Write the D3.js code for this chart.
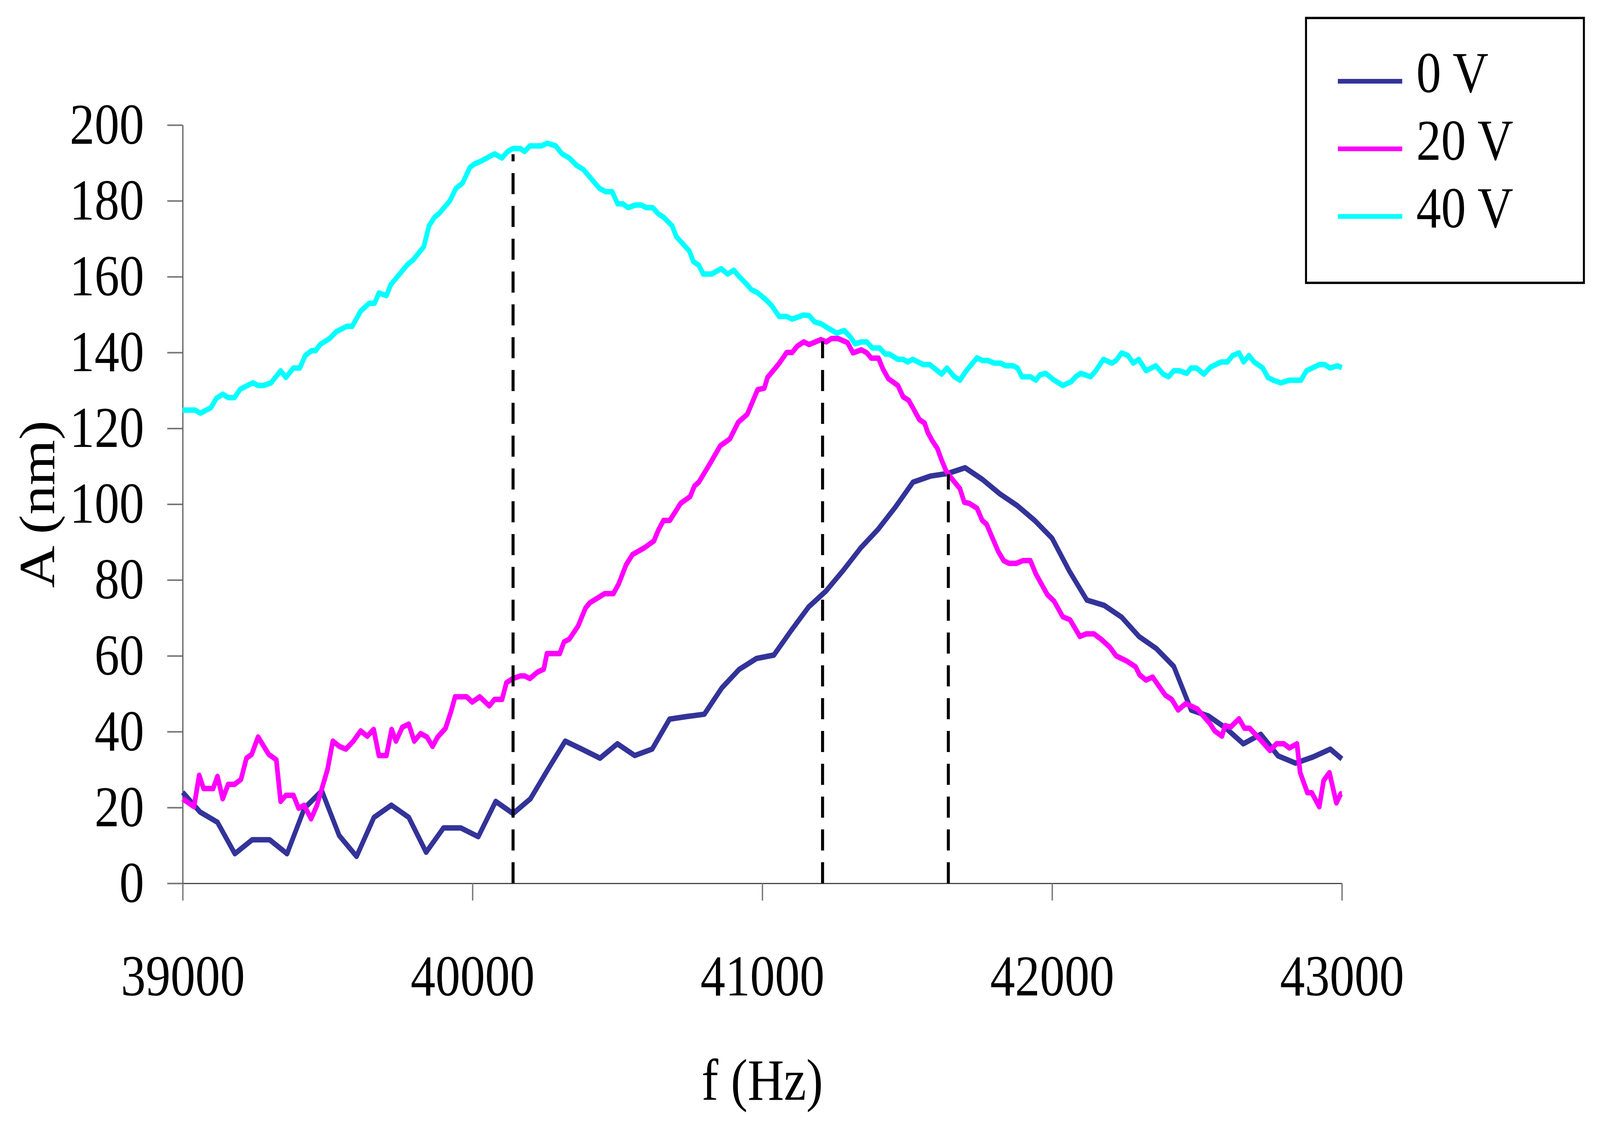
<!DOCTYPE html>
<html>
<head>
<meta charset="utf-8">
<script src="https://cdn.jsdelivr.net/npm/d3@7"></script>
<style>
  html, body { margin: 0; padding: 0; background: #fff; overflow: hidden; }
  svg { display: block; width: 100vw; height: 100vh; }
  text { font-family: "Liberation Serif", "Times New Roman", serif; }
</style>
</head>
<body>
<svg viewBox="0 0 4773 2895" preserveAspectRatio="none"></svg>
<script>
// 0 V
const f0 = [39000, 39060, 39120, 39180, 39240, 39300, 39360, 39420, 39480, 39540, 39600, 39660, 39720, 39780, 39840, 39900, 39960, 40020, 40080, 40140, 40200, 40260, 40320, 40380, 40440, 40500, 40560, 40620, 40680, 40740, 40800, 40860, 40920, 40980, 41040, 41100, 41160, 41220, 41280, 41340, 41400, 41460, 41520, 41580, 41640, 41700, 41760, 41820, 41880, 41940, 42000, 42060, 42120, 42180, 42240, 42300, 42360, 42420, 42480, 42540, 42600, 42660, 42720, 42780, 42840, 42900, 42960, 43000];
const a0 = [24, 18.8, 16.1, 7.8, 11.5, 11.5, 7.8, 19.8, 24.4, 12.6, 7.1, 17.4, 20.6, 17.4, 8.2, 14.6, 14.6, 12.3, 21.6, 18.4, 22.3, 30, 37.5, 35.3, 33.0, 36.8, 33.7, 35.4, 43.3, 44, 44.6, 51.5, 56.4, 59.3, 60.2, 66.7, 72.9, 77.1, 82.6, 88.5, 93.4, 99.3, 105.8, 107.4, 108.1, 109.6, 106.5, 102.7, 99.6, 95.7, 91.0, 82.3, 74.7, 73.3, 70.2, 65.1, 61.9, 57.2, 45.7, 44.1, 40.9, 36.8, 39.3, 33.6, 31.7, 33.3, 35.4, 32.8];

// 20 V
const f20 = [39000, 39039, 39057, 39072, 39105, 39120, 39138, 39157, 39179, 39201, 39220, 39238, 39260, 39297, 39323, 39338, 39356, 39382, 39400, 39419, 39443, 39463, 39500, 39518, 39541, 39563, 39589, 39614, 39637, 39659, 39677, 39703, 39721, 39736, 39758, 39780, 39799, 39821, 39843, 39862, 39880, 39907, 39925, 39940, 39980, 39999, 40025, 40058, 40076, 40102, 40117, 40139, 40165, 40180, 40198, 40224, 40246, 40257, 40301, 40316, 40334, 40364, 40390, 40405, 40456, 40486, 40504, 40530, 40552, 40593, 40626, 40641, 40659, 40681, 40718, 40751, 40766, 40781, 40821, 40855, 40888, 40917, 40948, 40984, 41007, 41018, 41058, 41084, 41103, 41121, 41143, 41162, 41202, 41221, 41239, 41261, 41294, 41313, 41342, 41361, 41376, 41401, 41416, 41435, 41468, 41486, 41505, 41519, 41542, 41560, 41571, 41586, 41604, 41619, 41634, 41652, 41682, 41697, 41715, 41741, 41759, 41774, 41789, 41815, 41833, 41851, 41877, 41899, 41925, 41944, 41962, 41984, 42007, 42037, 42062, 42096, 42118, 42144, 42169, 42199, 42221, 42258, 42288, 42302, 42324, 42347, 42365, 42391, 42413, 42435, 42461, 42501, 42546, 42561, 42586, 42597, 42616, 42645, 42664, 42682, 42723, 42752, 42774, 42800, 42819, 42845, 42856, 42881, 42896, 42922, 42937, 42957, 42981, 42996, 43000];
const a20 = [22.3, 20.2, 28.5, 25.0, 25.0, 28.2, 22.3, 26.1, 26.1, 27.4, 33.0, 34.0, 38.6, 34.0, 32.6, 21.6, 23.2, 23.2, 19.8, 20.6, 17.0, 20.5, 30.1, 37.5, 36.1, 35.4, 37.5, 40.2, 38.8, 40.6, 33.7, 33.7, 40.6, 37.5, 41.2, 42.0, 37.5, 39.5, 38.6, 36.1, 38.6, 40.9, 45.1, 49.2, 49.2, 47.8, 49.2, 46.8, 48.5, 48.5, 52.9, 54.0, 54.7, 54.7, 54.0, 55.7, 56.5, 60.6, 60.6, 63.7, 64.4, 67.8, 72.6, 74.0, 76.4, 76.4, 78.9, 84.0, 86.7, 88.5, 90.3, 93.1, 95.7, 95.7, 100.2, 102.0, 104.8, 105.8, 110.9, 115.4, 117.2, 121.6, 123.7, 130.2, 130.6, 133.4, 137.1, 140.0, 140.0, 141.7, 142.8, 142.1, 143.4, 142.8, 143.7, 143.7, 142.6, 139.9, 140.7, 139.9, 138.5, 138.5, 135.7, 133.1, 131.3, 128.3, 127.4, 125.5, 122.3, 121.4, 118.9, 116.8, 114.7, 111.6, 108.8, 106.9, 104.1, 100.5, 100.2, 98.9, 95.7, 94.7, 92.0, 87.4, 85.1, 84.4, 84.4, 85.1, 85.1, 81.6, 79.1, 76.1, 74.4, 70.3, 69.5, 65.1, 65.8, 65.8, 64.4, 62.3, 60.0, 58.6, 57.1, 55.0, 53.6, 54.4, 52.4, 49.6, 48.5, 45.7, 47.4, 46.0, 42.0, 40.2, 38.8, 41.6, 41.2, 43.4, 40.9, 40.9, 37.5, 35.0, 36.8, 36.8, 35.7, 36.8, 29.2, 23.9, 23.9, 20.2, 27.1, 29.2, 21.2, 23.6, 23.6];

// 40 V
const f40 = [39000, 39043, 39061, 39098, 39116, 39138, 39157, 39179, 39198, 39242, 39260, 39279, 39305, 39338, 39356, 39382, 39404, 39423, 39445, 39459, 39474, 39507, 39530, 39566, 39585, 39614, 39644, 39662, 39677, 39703, 39718, 39777, 39795, 39832, 39850, 39869, 39884, 39921, 39943, 39966, 39991, 40006, 40028, 40076, 40102, 40121, 40139, 40165, 40180, 40198, 40239, 40257, 40287, 40309, 40334, 40360, 40382, 40438, 40460, 40482, 40501, 40519, 40537, 40563, 40582, 40600, 40622, 40641, 40659, 40689, 40703, 40748, 40762, 40781, 40796, 40825, 40858, 40880, 40902, 40917, 40944, 40962, 40981, 41010, 41032, 41058, 41084, 41103, 41143, 41162, 41180, 41202, 41232, 41257, 41283, 41305, 41320, 41342, 41361, 41379, 41405, 41424, 41438, 41468, 41486, 41501, 41519, 41556, 41578, 41619, 41637, 41663, 41682, 41704, 41741, 41759, 41778, 41800, 41822, 41840, 41866, 41881, 41896, 41925, 41944, 41958, 41978, 42007, 42037, 42066, 42081, 42099, 42133, 42151, 42177, 42206, 42221, 42240, 42262, 42280, 42299, 42324, 42358, 42383, 42402, 42420, 42439, 42465, 42479, 42498, 42524, 42546, 42583, 42605, 42623, 42645, 42661, 42679, 42697, 42727, 42745, 42763, 42789, 42819, 42859, 42878, 42922, 42941, 42959, 42985, 43000];
const a40 = [124.8, 124.8, 124.0, 125.5, 127.9, 129.0, 128.1, 128.1, 130.3, 132.0, 131.3, 131.3, 132.0, 135.2, 133.4, 135.9, 135.9, 139.2, 140.5, 140.5, 142.1, 143.7, 145.5, 146.9, 146.9, 150.9, 153.0, 153.0, 155.7, 155.0, 157.9, 163.3, 164.4, 167.9, 173.4, 175.7, 176.6, 179.9, 183.3, 184.7, 188.8, 189.7, 190.4, 192.4, 191.3, 193.0, 193.8, 193.8, 193.0, 194.5, 194.5, 195.2, 194.5, 192.4, 191.3, 189.3, 188.3, 183.3, 182.4, 182.4, 179.2, 179.2, 178.2, 178.9, 178.9, 178.2, 178.2, 176.6, 175.7, 173.4, 170.6, 166.8, 164.0, 163.0, 160.7, 160.7, 162.1, 160.7, 161.7, 160.3, 158.2, 156.6, 155.9, 154.1, 152.4, 149.5, 149.5, 148.8, 149.9, 149.7, 148.1, 147.6, 146.2, 145.1, 145.8, 144.0, 142.3, 142.8, 142.8, 141.2, 141.2, 139.6, 139.6, 138.2, 138.2, 137.5, 138.2, 136.8, 136.8, 134.3, 135.9, 133.6, 132.7, 135.2, 138.6, 137.9, 137.9, 137.2, 137.2, 136.5, 136.5, 135.9, 133.6, 133.6, 132.7, 134.1, 134.5, 132.7, 131.3, 132.3, 133.6, 134.5, 133.6, 135.2, 138.2, 137.2, 137.9, 139.9, 139.2, 137.2, 138.2, 135.2, 136.5, 134.3, 133.6, 135.2, 135.2, 134.5, 135.9, 135.9, 134.3, 136.1, 137.5, 137.5, 139.2, 139.9, 137.5, 139.2, 137.5, 135.9, 133.4, 132.7, 132.0, 132.7, 132.7, 135.2, 136.8, 136.8, 135.9, 136.5, 136.0];

// resonance markers (dashed drop lines)
const peakF = [40140, 41208, 41642];
const peakA = [192.3, 143.0, 107.9];

const seriesNames = ["0 V", "20 V", "40 V"];
const seriesColors = ["#333399", "#ff00ff", "#00ffff"];
const xTicks = [39000, 40000, 41000, 42000, 43000];
const yTicks = [0, 20, 40, 60, 80, 100, 120, 140, 160, 180, 200];

const svg = d3.select("svg");
const x = d3.scaleLinear().domain([39000, 43000]).range([545, 4003]);
const y = d3.scaleLinear().domain([0, 200]).range([2261, 320]);

function zip(fs, as) {
  return fs.map(function (f, i) {
    return { f: f, a: as[i] };
  });
}
const series = [zip(f0, a0), zip(f20, a20), zip(f40, a40)];

// Axes
const yAxis = d3.axisLeft(y).tickValues(yTicks).tickSize(46).tickSizeOuter(0).tickPadding(69);
const xAxis = d3.axisBottom(x).tickValues(xTicks).tickSize(44).tickSizeOuter(0).tickPadding(138)
  .tickFormat(d3.format("d"));

const gy = svg.append("g").attr("transform", "translate(" + x(39000) + ",0)").call(yAxis);
const gx = svg.append("g").attr("transform", "translate(0," + y(0) + ")").call(xAxis);
[gx, gy].forEach(function (g) {
  g.selectAll("path.domain").attr("stroke", "#444").attr("stroke-width", 3);
  g.selectAll(".tick line").attr("stroke", "#777").attr("stroke-width", 4);
  g.selectAll(".tick text")
    .attr("font-family", "Liberation Serif, Times New Roman, serif")
    .attr("font-size", 148)
    .attr("fill", "#000");
});

// Lines
const line = d3.line()
  .x(function (d) { return x(d.f); })
  .y(function (d) { return y(d.a); });

svg.append("g")
  .selectAll("path.series")
  .data(series)
  .enter()
  .append("path")
  .classed("series", true)
  .attr("d", line)
  .attr("fill", "none")
  .attr("stroke", function (d, i) { return seriesColors[i]; })
  .attr("stroke-width", 14)
  .attr("stroke-linejoin", "round");

// Dashed drop lines
svg.append("g")
  .selectAll("line.peak")
  .data(peakF)
  .enter()
  .append("line")
  .classed("peak", true)
  .attr("x1", function (d) { return x(d); })
  .attr("x2", function (d) { return x(d); })
  .attr("y1", y(0))
  .attr("y2", function (d, i) { return y(peakA[i]); })
  .attr("stroke", "#000")
  .attr("stroke-width", 9)
  .attr("stroke-dasharray", "54,30");

// Axis titles
svg.append("text")
  .attr("x", (x(39000) + x(43000)) / 2)
  .attr("y", 2815)
  .attr("text-anchor", "middle")
  .attr("font-size", 150)
  .text("f (Hz)");

svg.append("text")
  .attr("transform", "translate(162," + (y(0) + y(200)) / 2 + ") rotate(-90)")
  .attr("text-anchor", "middle")
  .attr("font-size", 150)
  .text("A (nm)");

// Legend
const legend = svg.append("g");
legend.append("rect")
  .attr("x", 3896).attr("y", 46)
  .attr("width", 829).attr("height", 678)
  .attr("fill", "#fff")
  .attr("stroke", "#000")
  .attr("stroke-width", 6);

const items = legend.selectAll("g.item")
  .data(seriesNames)
  .enter()
  .append("g")
  .classed("item", true)
  .attr("transform", function (d, i) { return "translate(0," + (208 + i * 173) + ")"; });
items.append("line")
  .attr("x1", 3991).attr("x2", 4183)
  .attr("stroke", function (d, i) { return seriesColors[i]; })
  .attr("stroke-width", 12);
items.append("text")
  .attr("x", 4225)
  .attr("y", 28)
  .attr("font-size", 148)
  .text(function (d) { return d; });
</script>
</body>
</html>
